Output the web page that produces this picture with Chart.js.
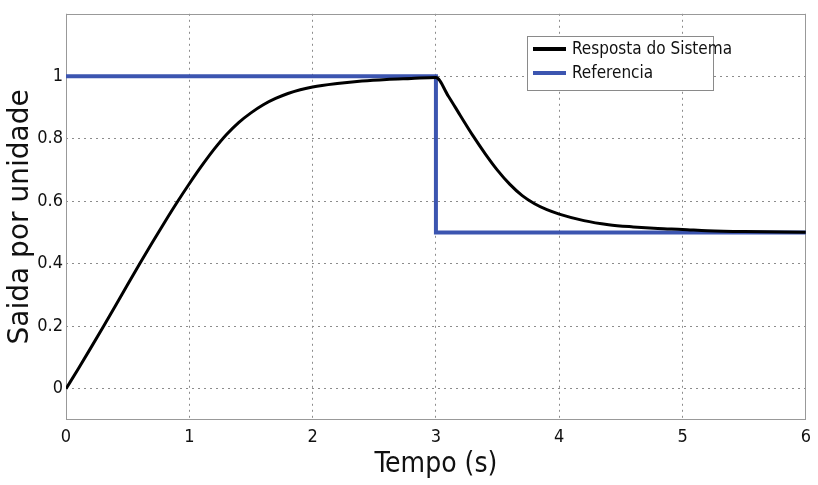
<!DOCTYPE html>
<html><head><meta charset="utf-8">
<script src="https://cdn.jsdelivr.net/npm/chart.js@4.4.0/dist/chart.umd.min.js"></script>
<style>html,body{margin:0;padding:0;background:#fff;}</style>
</head><body>
<canvas id="c" width="818" height="485"></canvas>
<script>
// ---- data ----
const seriesNames = ['Resposta do Sistema', 'Referencia'];
const respTime  = [0, 0.1, 0.2, 0.3, 0.4, 0.5, 0.6, 0.7, 0.8, 0.9, 1.0, 1.1, 1.2, 1.3, 1.4, 1.5, 1.6, 1.7, 1.8, 1.9, 2.0, 2.2, 2.4, 2.6, 2.8, 3.0,
                   3.1, 3.2, 3.3, 3.4, 3.5, 3.6, 3.7, 3.8, 3.9, 4.0, 4.2, 4.4, 4.6, 4.8, 5.0, 5.2, 5.5, 6.0];
const respValue = [0, 0.064, 0.13, 0.197, 0.265, 0.334, 0.402, 0.468, 0.533, 0.596, 0.656, 0.713, 0.766, 0.813, 0.852, 0.883, 0.909, 0.929, 0.945, 0.957, 0.966, 0.977, 0.985, 0.99, 0.993, 0.996,
                   0.937, 0.873, 0.81, 0.752, 0.699, 0.654, 0.618, 0.592, 0.573, 0.559, 0.538, 0.525, 0.518, 0.513, 0.51, 0.506, 0.503, 0.501];
const refTime  = [0, 3, 3, 6];
const refValue = [1, 1, 0.5, 0.5];
const xTicks = [0, 1, 2, 3, 4, 5, 6];
const xTickLabels = ['0', '1', '2', '3', '4', '5', '6'];
const yTicks = [0, 0.2, 0.4, 0.6, 0.8, 1];
const yTickLabels = ['0', '0.2', '0.4', '0.6', '0.8', '1'];
const xTitle = 'Tempo (s)';
const yTitle = 'Saida por unidade';

// ---- styles ----
const NARROW = "'Liberation Sans Narrow', 'DejaVu Sans Condensed', sans-serif";
const BLUE = '#3c55b0';
const GRID = '#8c8c8c';

const toPts = (xs, ys) => xs.map((x, i) => ({x: x, y: ys[i]}));

const frame = {
  id: 'frame',
  beforeDatasetsDraw(chart) {
    const {ctx, chartArea: a} = chart;
    ctx.save();
    ctx.strokeStyle = '#999';
    ctx.lineWidth = 1;
    ctx.setLineDash([]);
    ctx.strokeRect(Math.round(a.left) + 0.5, Math.round(a.top) + 0.5, Math.round(a.right - a.left) - 1, Math.round(a.bottom - a.top) - 1);
    ctx.restore();
  }
};

const boxLegend = {
  id: 'boxLegend',
  afterDraw(chart) {
    const ctx = chart.ctx;
    const x0 = 527, y0 = 36, w = 186, h = 54;
    ctx.save();
    ctx.fillStyle = '#fff';
    ctx.fillRect(x0, y0, w, h);
    ctx.strokeStyle = '#8a8a8a';
    ctx.lineWidth = 1;
    ctx.strokeRect(x0 + 0.5, y0 + 0.5, w, h);
    chart.data.datasets.forEach((ds, i) => {
      const y = y0 + 13 + i * 24;
      ctx.strokeStyle = ds.borderColor;
      ctx.lineWidth = 4;
      ctx.beginPath(); ctx.moveTo(x0 + 6, y); ctx.lineTo(x0 + 39, y); ctx.stroke();
      ctx.fillStyle = '#111';
      ctx.font = '17px ' + NARROW;
      ctx.textBaseline = 'middle';
      ctx.textAlign = 'left';
      ctx.fillText(ds.label, x0 + 45, y + 1);
    });
    ctx.restore();
  }
};

new Chart(document.getElementById('c'), {
  type: 'line',
  data: {
    datasets: [
      {label: seriesNames[0], data: toPts(respTime, respValue), borderColor: '#000', borderWidth: 3,
       pointRadius: 0, cubicInterpolationMode: 'monotone', fill: false},
      {label: seriesNames[1], data: toPts(refTime, refValue), borderColor: BLUE, borderWidth: 4,
       pointRadius: 0, tension: 0, fill: false}
    ]
  },
  options: {
    responsive: false,
    animation: false,
    layout: {padding: {top: 11, right: 8, left: 0, bottom: 0}},
    plugins: {legend: {display: false}, tooltip: {enabled: false}},
    scales: {
      x: {
        type: 'linear', min: 0, max: 6,
        afterBuildTicks: s => { s.ticks = xTicks.map(v => ({value: v})); },
        afterFit: s => { s.height = 65; },
        ticks: {
          callback: (v) => xTickLabels[xTicks.indexOf(v)],
          font: {family: NARROW, size: 18}, color: '#111', padding: 7, maxRotation: 0
        },
        grid: {color: GRID, lineWidth: 1, drawTicks: false},
        border: {display: false, dash: [2, 4]},
        title: {display: true, text: xTitle, font: {family: NARROW, size: 28}, color: '#111', padding: {top: 0, bottom: 3}}
      },
      y: {
        type: 'linear', min: -0.1, max: 1.2,
        afterBuildTicks: s => { s.ticks = yTicks.map(v => ({value: v})); },
        afterFit: s => { s.width = 66; },
        ticks: {
          callback: (v) => yTickLabels[yTicks.indexOf(v)],
          font: {family: NARROW, size: 18}, color: '#111', padding: 3
        },
        grid: {color: GRID, lineWidth: 1, drawTicks: false},
        border: {display: false, dash: [2, 4]},
        title: {display: true, text: yTitle, font: {family: "'DejaVu Sans', sans-serif", size: 28}, color: '#111', padding: {top: 4, bottom: 0}}
      }
    }
  },
  plugins: [frame, boxLegend]
});
</script>
</body></html>
